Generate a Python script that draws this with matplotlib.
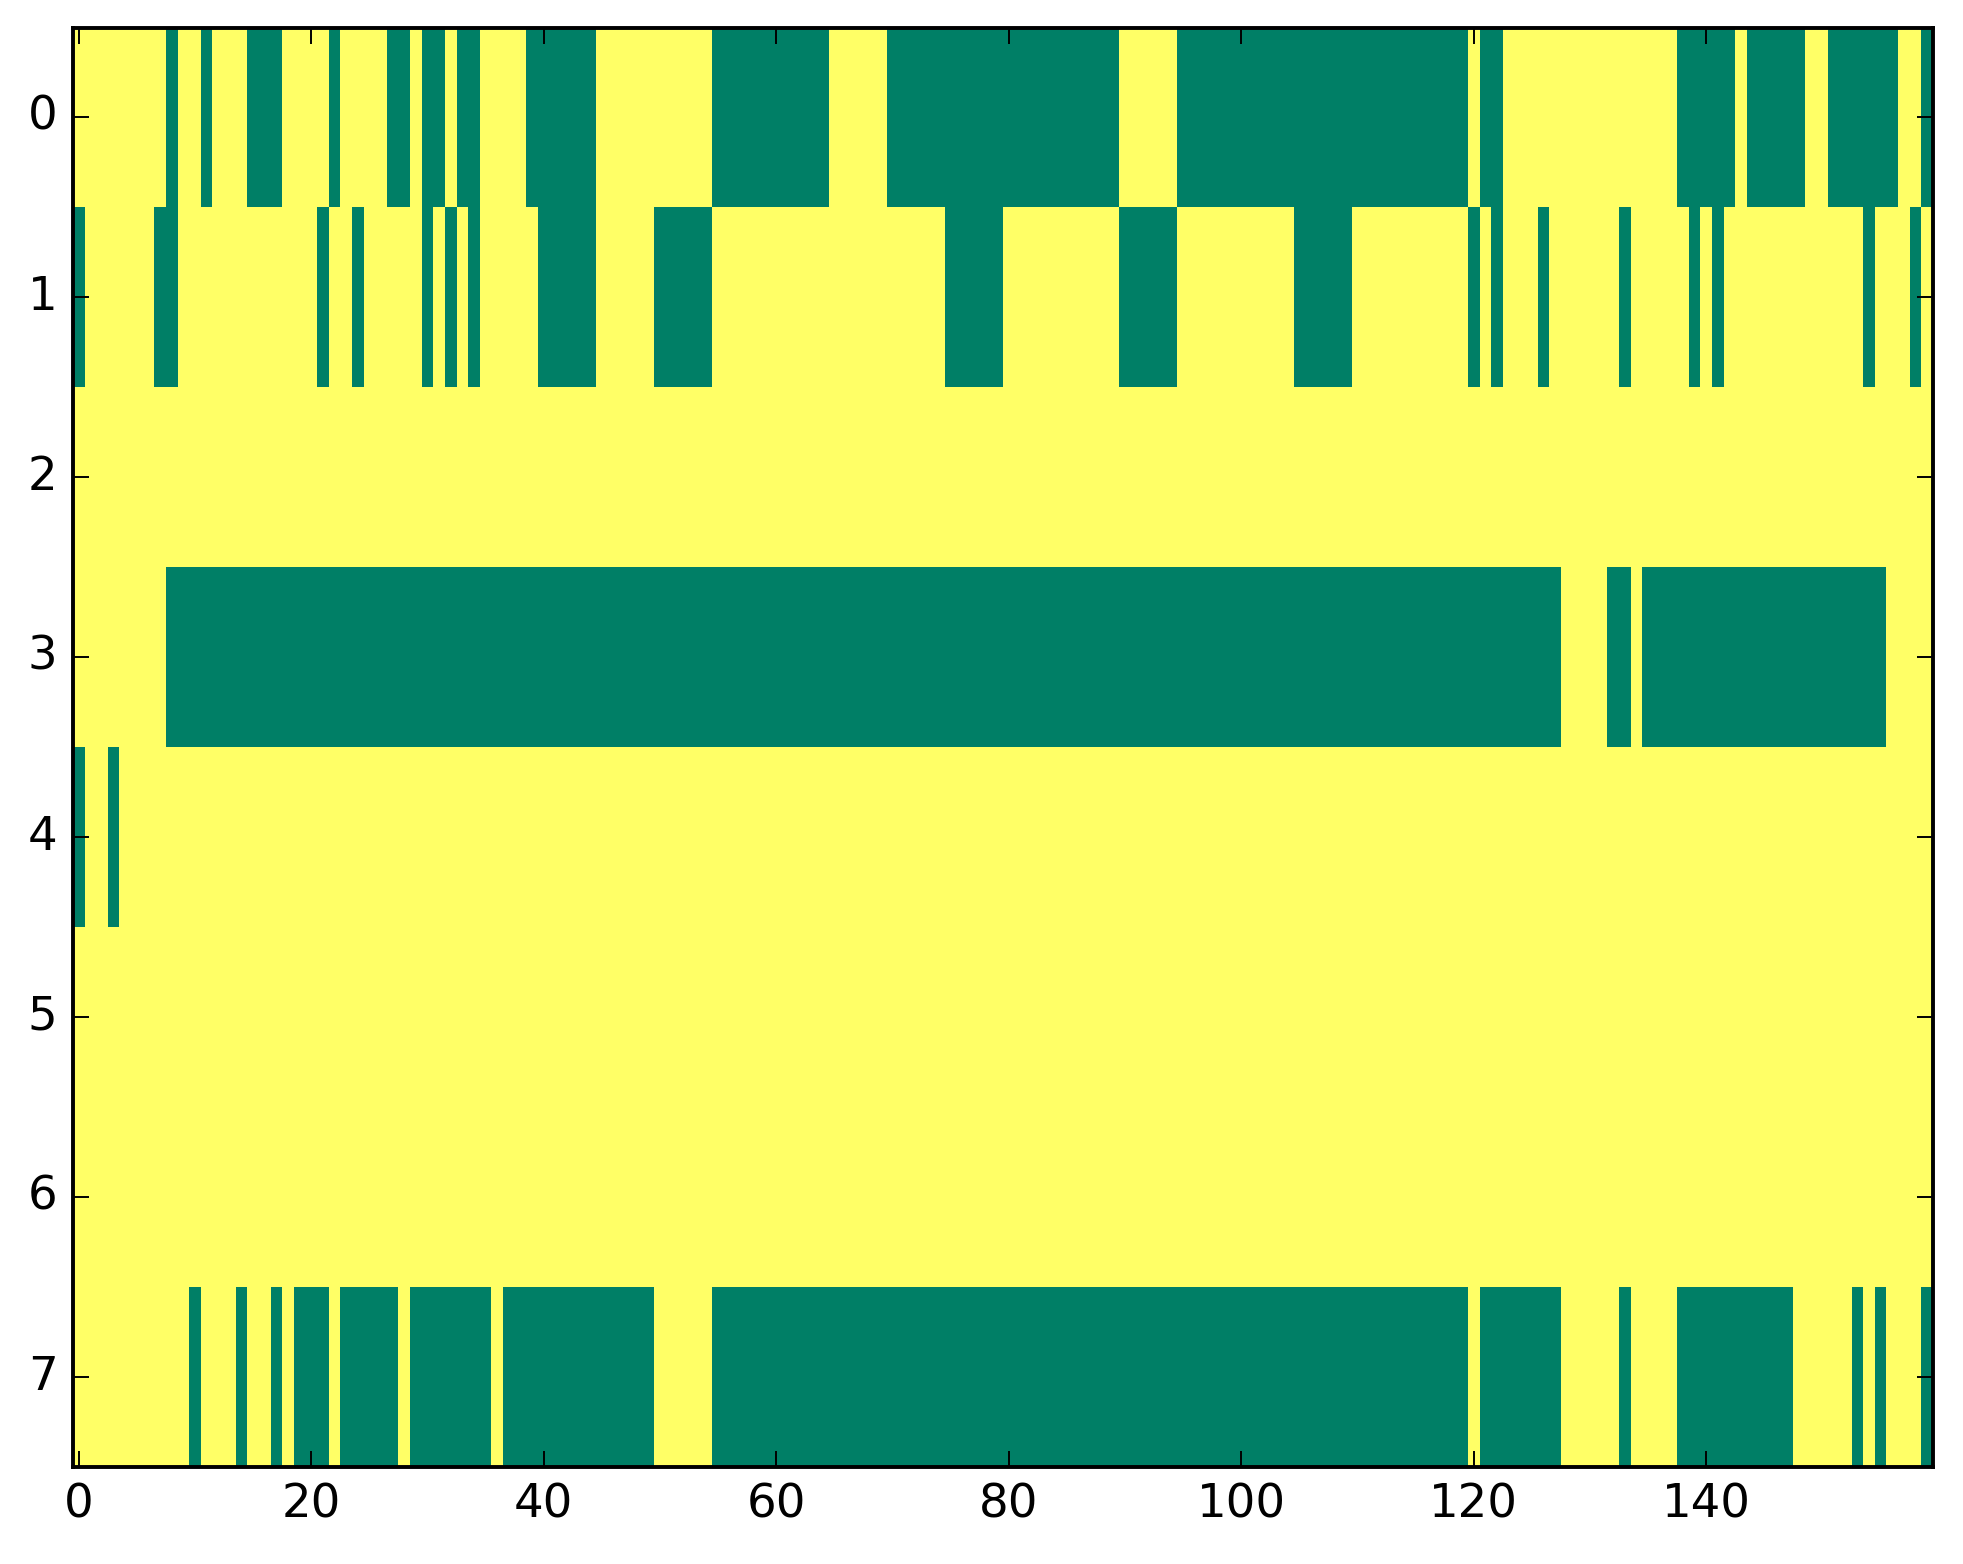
import numpy as np
import matplotlib
matplotlib.use('Agg')
import matplotlib.pyplot as plt

plt.style.use('classic')

n_rows = 8
n_cols = 160

# green (value 0) runs per row, inclusive column ranges; everything else is 1
row0_zero_runs = [(8, 8), (11, 11), (15, 17), (22, 22), (27, 28), (30, 31),
                  (33, 34), (39, 44), (55, 64), (70, 89), (95, 119),
                  (121, 122), (138, 142), (144, 148), (151, 156), (159, 159)]
row1_zero_runs = [(0, 0), (7, 8), (21, 21), (24, 24), (30, 30), (32, 32),
                  (34, 34), (40, 44), (50, 54), (75, 79), (90, 94),
                  (105, 109), (120, 120), (122, 122), (126, 126), (133, 133),
                  (139, 139), (141, 141), (154, 154), (158, 158)]
row2_zero_runs = []
row3_zero_runs = [(8, 127), (132, 133), (135, 155)]
row4_zero_runs = [(0, 0), (3, 3)]
row5_zero_runs = []
row6_zero_runs = []
row7_zero_runs = [(10, 10), (14, 14), (17, 17), (19, 21), (23, 27), (29, 35),
                  (37, 49), (55, 119), (121, 127), (133, 133), (138, 147),
                  (153, 153), (155, 155), (159, 159)]

all_runs = [row0_zero_runs, row1_zero_runs, row2_zero_runs, row3_zero_runs,
            row4_zero_runs, row5_zero_runs, row6_zero_runs, row7_zero_runs]

data = np.ones((n_rows, n_cols))
for r, runs in enumerate(all_runs):
    for a, b in runs:
        data[r, a:b + 1] = 0

DPI = 280
fig = plt.figure(figsize=(1963 / DPI, 1564 / DPI), dpi=DPI, facecolor='white')
ax = fig.add_axes([0.0372, 0.062, 0.9475, 0.9204])
ax.imshow(data, cmap='summer', aspect='auto', interpolation='nearest',
          vmin=0, vmax=1)
ax.set_xticks(np.arange(0, 141, 20))
ax.set_yticks(np.arange(0, 8))
ax.tick_params(labelsize=12)

fig.savefig('out.png', dpi=DPI, facecolor='white')
